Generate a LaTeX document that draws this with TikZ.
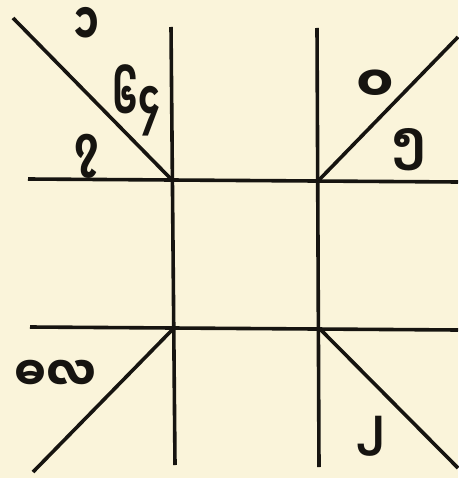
\documentclass[tikz,border=0pt]{standalone}
\usepackage{fontspec}
\newfontfamily\mmfont[Script=Myanmar]{Noto Sans Myanmar UI}
\definecolor{paper}{RGB}{250,244,218}
\definecolor{ink}{RGB}{22,20,16}

\begin{document}
\begin{tikzpicture}[x=1pt,y=-1pt,
  rule/.style={draw=ink,line width=3.6pt},
  digit/.style={text=ink,font=\mmfont\bfseries\fontsize{40}{40}\selectfont,inner sep=0pt},
]
\fill[paper] (0,0) rectangle (458,478);
\useasboundingbox (0,0) rectangle (458,478);

% ends of the four grid lines
\coordinate (lefttop) at (171,27);
\coordinate (leftbot) at (175,465);
\coordinate (righttop) at (317,28);
\coordinate (rightbot) at (319,467);
\coordinate (upperwest) at (28,179);
\coordinate (uppereast) at (458,182);
\coordinate (lowerwest) at (30,327);
\coordinate (lowereast) at (458,330);

% the four crossings
\coordinate (nw) at (172,180);
\coordinate (ne) at (318,181);
\coordinate (sw) at (174,328);
\coordinate (se) at (320,329);

% outer ends of the corner strokes
\coordinate (nwtip) at (13,18);
\coordinate (netip) at (458,37);
\coordinate (swtip) at (33,472);
\coordinate (setip) at (458,468);

% grid
\draw[rule] (lefttop) -- (leftbot);
\draw[rule] (righttop) -- (rightbot);
\draw[rule] (upperwest) -- (uppereast);
\draw[rule] (lowerwest) -- (lowereast);

% corner strokes
\draw[rule] (nwtip) -- (nw);
\draw[rule] (ne) -- (netip);
\draw[rule] (sw) -- (swtip);
\draw[rule] (se) -- (setip);

% figures
\node[digit] (one) at (86,27) {\scalebox{0.95}[1.5]{၁}};
\node[digit] (sixtyfour) at (137,100) {\scalebox{0.85}[1.35]{၆၄}};
\node[digit] (seven) at (87,156) {\scalebox{0.95}[1.2]{၇}};
\node[digit] (zero) at (375,86) {\scalebox{1.35}[1.25]{၀}};
\node[digit] (five) at (409,150) {\scalebox{1.1}[1.15]{၅}};
\node[digit] (eighty) at (55,376) {\scalebox{1.12}[1.2]{ဓလ}};
\node[digit] (two) at (371,436) {\scalebox{0.95}[1.1]{၂}};
\end{tikzpicture}
\end{document}
